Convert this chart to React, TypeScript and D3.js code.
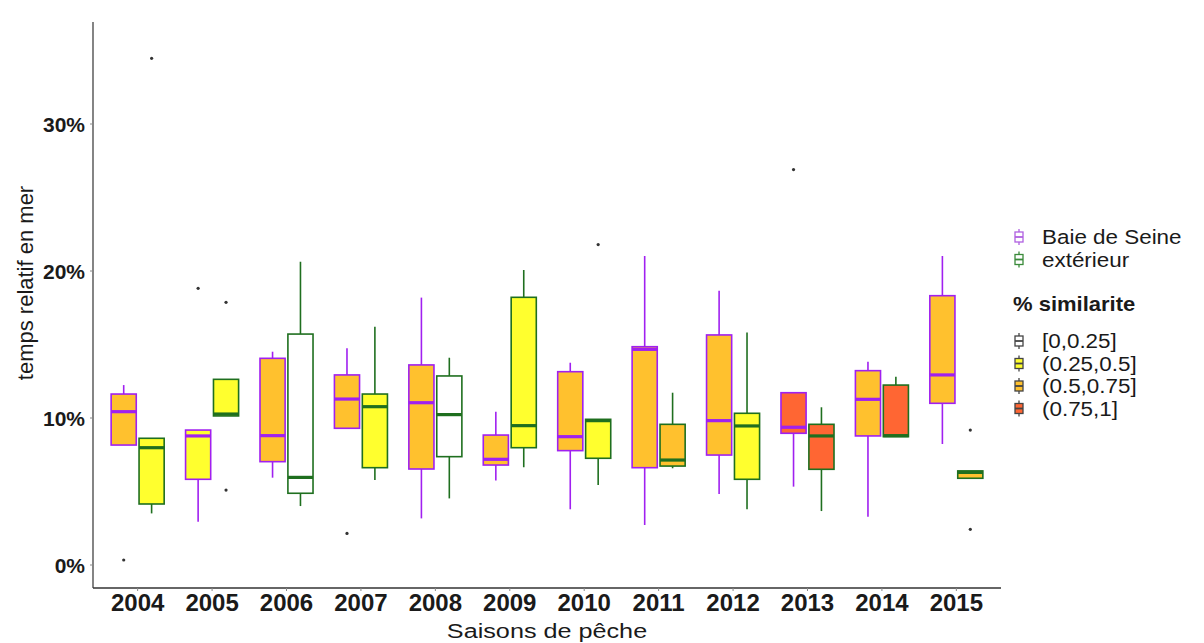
import React from "react";
import * as d3 from "d3";

const years = ["2004", "2005", "2006", "2007", "2008", "2009", "2010", "2011", "2012", "2013", "2014", "2015"];
const zones = ["Baie de Seine", "extérieur"];
const simClasses = ["[0,0.25]", "(0.25,0.5]", "(0.5,0.75]", "(0.75,1]"];
const yTicks = [0, 10, 20, 30];

// Baie de Seine statistics (% time at sea)
const baieLower = [8.16, 2.95, 5.94, 9.3, 3.17, 5.74, 3.79, 2.72, 4.83, 5.33, 3.29, 8.23];
const baieQ1 = [8.16, 5.83, 7.03, 9.3, 6.53, 6.8, 7.78, 6.62, 7.48, 8.96, 8.78, 11.0];
const baieMedian = [10.43, 8.78, 8.8, 11.29, 11.04, 7.19, 8.73, 14.67, 9.82, 9.37, 11.27, 12.93];
const baieQ3 = [11.63, 9.18, 14.06, 12.93, 13.61, 8.84, 13.15, 14.85, 15.65, 11.72, 13.22, 18.32];
const baieUpper = [12.24, 9.18, 14.51, 14.74, 18.19, 10.43, 13.76, 21.02, 18.66, 11.72, 13.83, 21.02];
const baieClass = [2, 1, 2, 2, 2, 2, 2, 2, 2, 3, 2, 2];
const baieOutliers = [[0.34], [18.82], [], [2.15], [], [], [], [], [], [26.9], [], []];

// extérieur statistics
const extLower = [3.51, 10.14, 4.01, 5.78, 4.53, 6.65, 5.44, 6.58, 3.79, 3.67, 8.73, 5.9];
const extQ1 = [4.15, 10.14, 4.88, 6.62, 7.37, 7.98, 7.26, 6.73, 5.83, 6.51, 8.73, 5.9];
const extMedian = [7.98, 10.27, 5.96, 10.77, 10.23, 9.48, 9.82, 7.14, 9.46, 8.78, 8.8, 6.3];
const extQ3 = [8.62, 12.63, 15.71, 11.63, 12.86, 18.21, 9.91, 9.57, 10.32, 9.57, 12.24, 6.4];
const extUpper = [8.62, 12.63, 20.63, 16.21, 14.1, 20.07, 9.91, 11.72, 15.81, 10.73, 12.81, 6.4];
const extClass = [1, 1, 0, 1, 0, 1, 1, 2, 1, 3, 3, 2];
const extOutliers = [[34.47], [17.87, 5.1], [], [], [], [], [21.8], [], [], [], [], [9.18, 2.43]];

const zoneColors = ["#a020f0", "#1f6f1f"];
const zoneLegendColors = ["#b060e0", "#3a8a3a"];
const simFills = ["#ffffff", "#ffff2e", "#ffc12e", "#ff6633"];

const FONT = "'Liberation Sans', Arial, sans-serif";

export default function App() {
  const W = 1204, H = 643;
  const left = 93, right = 1001, top = 22, bottom = 588;

  const x = d3.scaleBand<string>().domain(years).range([left, right]).paddingInner(0).paddingOuter(0.1);
  const step = x.bandwidth();
  const dodge = d3.scaleBand<string>().domain(zones).range([-0.375 * step, 0.375 * step]).paddingInner(0.1).paddingOuter(0.05);
  const bw = dodge.bandwidth();

  const y = d3.scaleLinear().domain([(565 - bottom) / 14.7, (565 - top) / 14.7]).range([bottom, top]);

  const series = [
    { lo: baieLower, q1: baieQ1, med: baieMedian, q3: baieQ3, hi: baieUpper, cls: baieClass, out: baieOutliers },
    { lo: extLower, q1: extQ1, med: extMedian, q3: extQ3, hi: extUpper, cls: extClass, out: extOutliers },
  ];

  const boxes: React.ReactNode[] = [];
  series.forEach((s, zi) => {
    const col = zoneColors[zi];
    years.forEach((yr, i) => {
      const x0 = (x(yr) as number) + step / 2 + (dodge(zones[zi]) as number);
      const cx = x0 + bw / 2;
      boxes.push(
        <g key={`${zi}-${i}`}>
          <line x1={cx} x2={cx} y1={y(s.hi[i])} y2={y(s.q3[i])} stroke={col} strokeWidth={1.6} />
          <line x1={cx} x2={cx} y1={y(s.q1[i])} y2={y(s.lo[i])} stroke={col} strokeWidth={1.6} />
          <rect x={x0} width={bw} y={y(s.q3[i])} height={Math.max(0.5, y(s.q1[i]) - y(s.q3[i]))} fill={simFills[s.cls[i]]} stroke={col} strokeWidth={1.6} />
          <line x1={x0} x2={x0 + bw} y1={y(s.med[i])} y2={y(s.med[i])} stroke={col} strokeWidth={3.2} />
          {s.out[i].map((o, k) => (
            <circle key={k} cx={cx} cy={y(o)} r={1.6} fill="#333" />
          ))}
        </g>
      );
    });
  });

  const legendIcon = (cx: number, cy: number, stroke: string, fill: string, key: string) => (
    <g key={key}>
      <line x1={cx} x2={cx} y1={cy - 8} y2={cy + 8} stroke={stroke} strokeWidth={1.3} />
      <rect x={cx - 4} y={cy - 5} width={8} height={10} fill={fill} stroke={stroke} strokeWidth={1.3} />
      <line x1={cx - 4} x2={cx + 4} y1={cy} y2={cy} stroke={stroke} strokeWidth={1.8} />
    </g>
  );

  const zoneRows = [237, 259.5];
  const simRows = [341, 363.5, 386, 408.5];

  return (
    <svg width={W} height={H} style={{ display: "block", position: "absolute", left: 0, top: 0 }} fontFamily={FONT}>
      <rect x={0} y={0} width={W} height={H} fill="#fff" />
      {boxes}
      {/* axes */}
      <line x1={left} x2={left} y1={top} y2={bottom} stroke="#666" strokeWidth={1.6} />
      <line x1={left} x2={right} y1={bottom} y2={bottom} stroke="#333" strokeWidth={1.6} />
      {yTicks.map((t) => (
        <g key={t}>
          <line x1={left - 3} x2={left} y1={y(t)} y2={y(t)} stroke="#888" strokeWidth={1} />
          <text x={85} y={y(t)} dy="0.36em" textAnchor="end" fontSize={21} fontWeight="bold" fill="#1a1a1a">
            {`${t}%`}
          </text>
        </g>
      ))}
      {years.map((yr) => {
        const cx = (x(yr) as number) + step / 2;
        return (
          <g key={yr}>
            <line x1={cx} x2={cx} y1={bottom} y2={bottom + 3} stroke="#888" strokeWidth={1} />
            <text x={cx} y={602} dy="0.36em" textAnchor="middle" fontSize={24} fontWeight="bold" fill="#1a1a1a">
              {yr}
            </text>
          </g>
        );
      })}
      <text transform={`translate(${(left + right) / 2},630) scale(1.2,1)`} dy="0.36em" textAnchor="middle" fontSize={21} fill="#1a1a1a">
        Saisons de pêche
      </text>
      <text transform={`translate(25,283) rotate(-90)`} dy="0.36em" textAnchor="middle" fontSize={22} fill="#1a1a1a">
        temps relatif en mer
      </text>
      {/* legend */}
      {zones.map((z, i) => (
        <g key={z}>
          {legendIcon(1019, zoneRows[i], zoneLegendColors[i], "#fff", `zi${i}`)}
          <text transform={`translate(1042,${zoneRows[i]}) scale(1.15,1)`} dy="0.36em" fontSize={19.5} fill="#1a1a1a">{z}</text>
        </g>
      ))}
      <text transform={`translate(1013,304) scale(1.1,1)`} dy="0.36em" fontSize={20} fontWeight="bold" fill="#1a1a1a">% similarite</text>
      {simClasses.map((c, i) => (
        <g key={c}>
          {legendIcon(1019, simRows[i], "#444", simFills[i], `si${i}`)}
          <text transform={`translate(1042,${simRows[i]}) scale(1.15,1)`} dy="0.36em" fontSize={19.5} fill="#1a1a1a">{c}</text>
        </g>
      ))}
    </svg>
  );
}
